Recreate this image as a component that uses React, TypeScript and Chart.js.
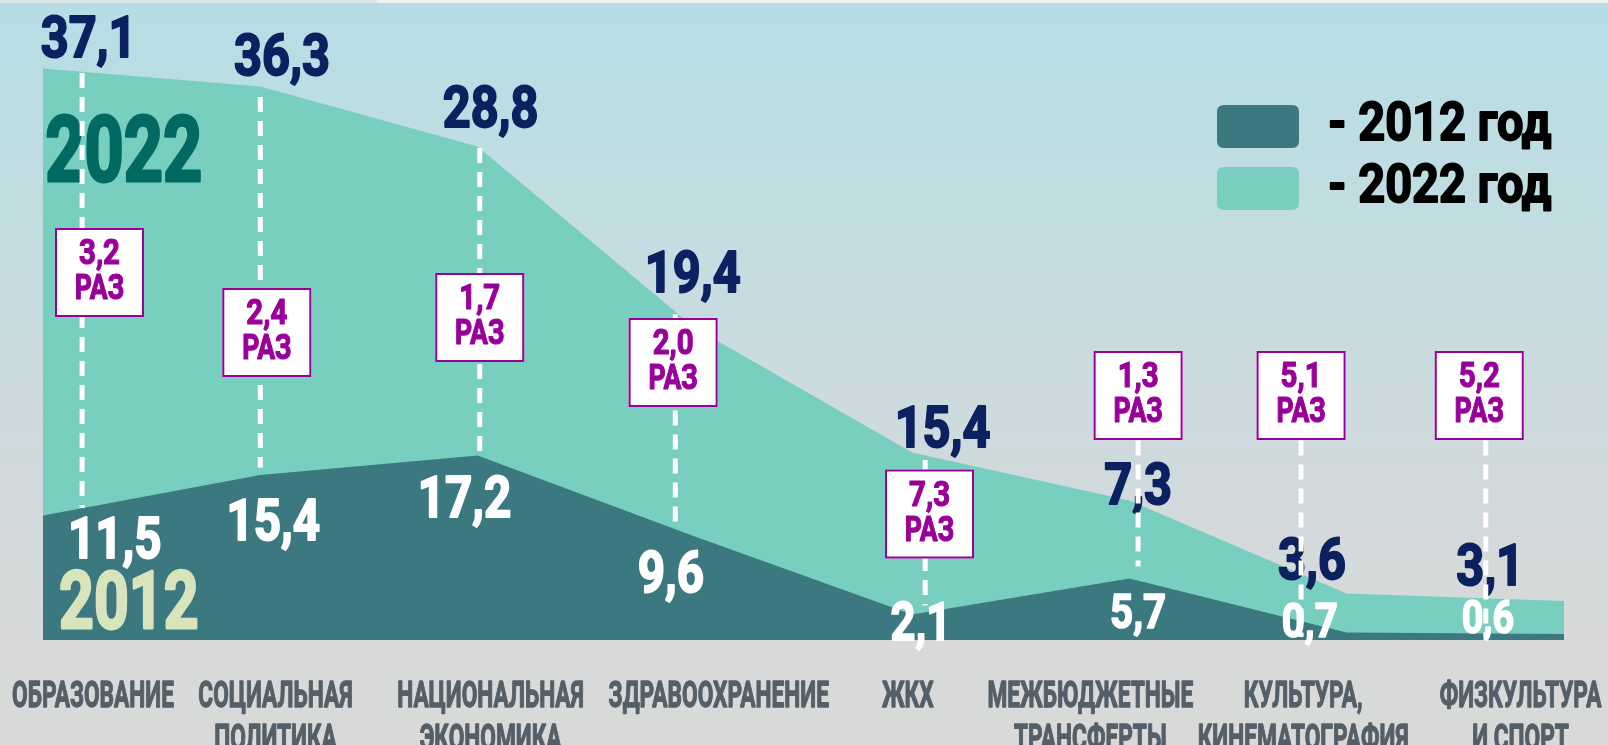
import React, { useEffect, useRef } from 'react';
import { Chart, registerables } from 'chart.js';

Chart.register(...registerables);

// ---------------- data ----------------
const CATEGORIES: string[][] = [
  ['ОБРАЗОВАНИЕ'],
  ['СОЦИАЛЬНАЯ', 'ПОЛИТИКА'],
  ['НАЦИОНАЛЬНАЯ', 'ЭКОНОМИКА'],
  ['ЗДРАВООХРАНЕНИЕ'],
  ['ЖКХ'],
  ['МЕЖБЮДЖЕТНЫЕ', 'ТРАНСФЕРТЫ'],
  ['КУЛЬТУРА,', 'КИНЕМАТОГРАФИЯ'],
  ['ФИЗКУЛЬТУРА', 'И СПОРТ'],
];
// heights of the drawn areas
const VALUES_2012 = [8.3, 11.0, 12.3, 6.9, 1.7, 4.1, 0.5, 0.4];
const VALUES_2022 = [38.1, 36.9, 32.9, 20.8, 12.5, 9.3, 3.1, 2.6];
// printed value labels
const LABELS_2012 = ['11,5', '15,4', '17,2', '9,6', '2,1', '5,7', '0,7', '0,6'];
const LABELS_2022 = ['37,1', '36,3', '28,8', '19,4', '15,4', '7,3', '3,6', '3,1'];
const GROWTH = ['3,2', '2,4', '1,7', '2,0', '7,3', '1,3', '5,1', '5,2'];
const GROWTH_UNIT = 'РАЗ';
const SERIES_NAMES = ['2012 год', '2022 год'];
const YEAR_MARKS = ['2022', '2012'];

// ---------------- layout (scale units: x = category index, y = value) ----------------
const POS_LABEL_2022 = [[0.21, 38.9], [1.10, 37.7], [2.06, 34.2], [2.99, 23.2], [4.14, 12.9], [5.04, 9.1], [5.84, 4.1], [6.66, 3.7]];
const POS_LABEL_2012 = [[0.33, 5.5], [1.06, 6.7], [1.94, 8.2], [2.89, 3.2], [4.04, 0.0], [5.04, 0.8], [5.83, 0.2], [6.65, 0.5]];
const SIZE_LABEL_2012 = [58, 58, 58, 58, 53, 49, 49, 46];
const POS_BOX = [[0.26, 24.5], [1.03, 20.5], [2.01, 21.5], [2.90, 18.5], [4.08, 8.4], [5.04, 16.3], [5.79, 16.3], [6.61, 16.3]];
const DASH_X = [0.18, 1.0, 2.01, 2.91, 4.06, 5.04, 5.79, 6.64];
const DASH_Y = [[37.8, 8.8], [36.2, 11.5], [32.8, 12.5], [21.7, 7.8], [12.0, 2.3], [13.3, 4.9], [13.3, 0.2], [13.3, 0.2]];
const CAT_X = [0.23, 1.07, 2.06, 3.11, 3.98, 4.82, 5.80, 6.80];
const YEAR_POS = [[0.01, 30.6], [0.074, 0.8]];

// ---------------- style ----------------
const FONT = 'Roboto, "Open Sans", "Noto Sans", sans-serif';
const COLOR_2012 = '#3c7880';
const COLOR_2022 = '#79cfbf';
const NAVY = '#0b2160';
const PURPLE = '#990099';
const GREY_TEXT = '#545f68';

function drawText(
  ctx: CanvasRenderingContext2D,
  text: string,
  x: number,
  y: number,
  size: number,
  color: string,
  squeeze: number,
  align: 'left' | 'center' = 'center',
  heavy: number = 0.035
) {
  ctx.save();
  ctx.font = `bold ${size}px ${FONT}`;
  ctx.fillStyle = color;
  ctx.strokeStyle = color;
  ctx.lineJoin = 'round';
  ctx.lineWidth = size * heavy;
  ctx.textAlign = 'left';
  ctx.textBaseline = 'alphabetic';
  const w = ctx.measureText(text).width * squeeze;
  const left = align === 'center' ? x - w / 2 : x;
  ctx.translate(left, y);
  ctx.scale(squeeze, 1);
  ctx.fillText(text, 0, 0);
  if (heavy > 0) ctx.strokeText(text, 0, 0);
  ctx.restore();
}

function roundRect(ctx: CanvasRenderingContext2D, x: number, y: number, w: number, h: number, r: number) {
  ctx.beginPath();
  ctx.moveTo(x + r, y);
  ctx.lineTo(x + w - r, y);
  ctx.quadraticCurveTo(x + w, y, x + w, y + r);
  ctx.lineTo(x + w, y + h - r);
  ctx.quadraticCurveTo(x + w, y + h, x + w - r, y + h);
  ctx.lineTo(x + r, y + h);
  ctx.quadraticCurveTo(x, y + h, x, y + h - r);
  ctx.lineTo(x, y + r);
  ctx.quadraticCurveTo(x, y, x + r, y);
  ctx.closePath();
}

const backgroundPlugin = {
  id: 'bgGradient',
  beforeDraw(chart: any) {
    const { ctx, width, height } = chart;
    ctx.save();
    const g = ctx.createLinearGradient(0, 0, 0, height);
    g.addColorStop(0, '#b6dde6');
    g.addColorStop(0.3, '#c3dde2');
    g.addColorStop(0.6, '#cfdadd');
    g.addColorStop(0.85, '#d8d9d9');
    g.addColorStop(1, '#d9d9d9');
    ctx.fillStyle = g;
    ctx.fillRect(0, 0, width, height);
    ctx.fillStyle = '#dfe6e8';
    ctx.fillRect(0, 0, 377, 3);
    ctx.fillStyle = '#eff1f1';
    ctx.fillRect(377, 0, width - 377, 3);
    ctx.restore();
  },
};

const overlayPlugin = {
  id: 'overlay',
  afterDatasetsDraw(chart: any) {
    const { ctx, chartArea } = chart;
    const xs = chart.scales.x;
    const ys = chart.scales.y;
    const px = (v: number) => xs.getPixelForValue(v);
    const py = (v: number) => ys.getPixelForValue(v);

    // big year marks
    drawText(ctx, YEAR_MARKS[0], px(YEAR_POS[0][0]), py(YEAR_POS[0][1]), 90, '#006a62', 0.76, 'left');
    drawText(ctx, YEAR_MARKS[1], px(YEAR_POS[1][0]), py(YEAR_POS[1][1]), 80, '#d8e4bc', 0.76, 'left');

    // value labels
    LABELS_2022.forEach((t, i) => {
      drawText(ctx, t, px(POS_LABEL_2022[i][0]), py(POS_LABEL_2022[i][1]), 58, NAVY, 0.84);
    });
    LABELS_2012.forEach((t, i) => {
      drawText(ctx, t, px(POS_LABEL_2012[i][0]), py(POS_LABEL_2012[i][1]), SIZE_LABEL_2012[i], '#ffffff', 0.82);
    });

    // dashed guide lines
    ctx.save();
    ctx.strokeStyle = '#ffffff';
    ctx.lineWidth = 5;
    ctx.setLineDash([15, 9]);
    DASH_X.forEach((dx, i) => {
      const x = px(dx);
      ctx.beginPath();
      ctx.moveTo(x, py(DASH_Y[i][0]));
      ctx.lineTo(x, py(DASH_Y[i][1]));
      ctx.stroke();
    });
    ctx.restore();

    // growth boxes
    const BOX = 89;
    GROWTH.forEach((t, i) => {
      const cx = px(POS_BOX[i][0]);
      const cy = py(POS_BOX[i][1]);
      const left = cx - BOX / 2;
      const top = cy - BOX / 2;
      ctx.save();
      ctx.fillStyle = '#ffffff';
      ctx.fillRect(left, top, BOX, BOX);
      ctx.strokeStyle = PURPLE;
      ctx.lineWidth = 2;
      ctx.strokeRect(left + 1, top + 1, BOX - 2, BOX - 2);
      ctx.restore();
      drawText(ctx, t, cx, top + 36, 35, PURPLE, 0.84);
      drawText(ctx, GROWTH_UNIT, cx, top + 71, 35, PURPLE, 0.76);
    });

    // category labels
    CATEGORIES.forEach((lines, i) => {
      lines.forEach((line, k) => {
        drawText(ctx, line, px(CAT_X[i]), chartArea.bottom + 67 + k * 43, 36, GREY_TEXT, 0.63);
      });
    });
  },
  afterDraw(chart: any) {
    const { ctx } = chart;
    const colors = [COLOR_2012, COLOR_2022];
    SERIES_NAMES.forEach((name, i) => {
      const top = 105 + i * 62;
      ctx.save();
      ctx.fillStyle = colors[i];
      roundRect(ctx, 1217, top, 82, 43, 7);
      ctx.fill();
      ctx.restore();
      drawText(ctx, '- ' + name, 1328, top + 35, 54, '#000000', 0.87, 'left');
    });
  },
};

export default function App() {
  const canvasRef = useRef<HTMLCanvasElement | null>(null);

  useEffect(() => {
    document.body.style.margin = '0';
    const canvas = canvasRef.current;
    if (!canvas) return;
    const chart = new Chart(canvas, {
      type: 'line',
      data: {
        labels: CATEGORIES.map((c) => c.join(' ')),
        datasets: [
          {
            label: SERIES_NAMES[0],
            data: VALUES_2012,
            backgroundColor: COLOR_2012,
            borderWidth: 0,
            fill: 'origin',
            pointRadius: 0,
            tension: 0,
          },
          {
            label: SERIES_NAMES[1],
            data: VALUES_2022,
            backgroundColor: COLOR_2022,
            borderWidth: 0,
            fill: 'origin',
            pointRadius: 0,
            tension: 0,
          },
        ],
      },
      options: {
        animation: false,
        responsive: true,
        maintainAspectRatio: false,
        layout: { padding: { left: 43, right: 44, top: 40, bottom: 105 } },
        scales: {
          x: { type: 'category', display: false, offset: false },
          y: { display: false, min: 0, max: 40 },
        },
        plugins: {
          legend: { display: false },
          tooltip: { enabled: false },
        },
      },
      plugins: [backgroundPlugin, overlayPlugin],
    });
    return () => chart.destroy();
  }, []);

  return (
    <div style={{ position: 'fixed', left: 0, top: 0, width: 1608, height: 745 }}>
      <canvas ref={canvasRef} />
    </div>
  );
}
